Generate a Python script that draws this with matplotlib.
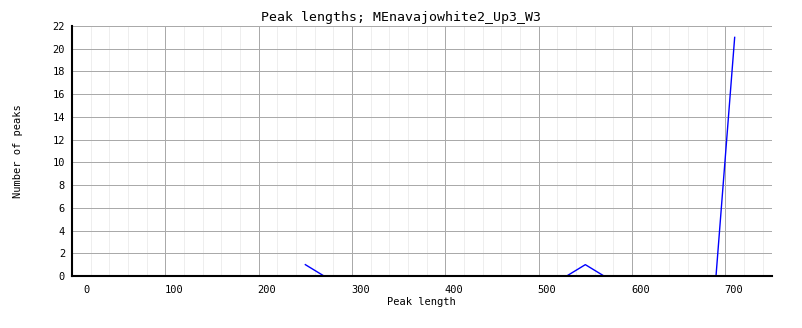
import matplotlib.pyplot as plt
from matplotlib.ticker import MultipleLocator
from matplotlib.transforms import ScaledTranslation

lengths = [250, 270, 290, 310, 330, 350, 370, 390, 410, 430, 450, 470, 490, 510,
           530, 550, 570, 590, 610, 630, 650, 670, 690, 710]
counts = [1, 0, 0, 0, 0, 0, 0, 0, 0, 0, 0, 0, 0, 0,
          0, 1, 0, 0, 0, 0, 0, 0, 0, 21]
xticks = [0, 100, 200, 300, 400, 500, 600, 700]

plt.rcParams['font.family'] = 'DejaVu Sans Mono'
plt.rcParams['font.size'] = 7.5

fig = plt.figure(figsize=(8.02, 3.28), dpi=100)
ax = fig.add_axes([0.0898, 0.1585, 0.8728, 0.7622])

ax.plot(lengths, counts, color='#0000ff', linewidth=1)

ax.set_xlim(0, 750)
ax.set_ylim(0, 22)
ax.set_xticks(xticks)
ax.set_xticklabels([])
ax.xaxis.set_minor_locator(MultipleLocator(20))
ax.yaxis.set_major_locator(MultipleLocator(2))

# x labels sit just right of their grid line (the 0 a bit further)
trans = ax.get_xaxis_transform()
for t in xticks:
    dx = 11 if t == 0 else -1
    off = ScaledTranslation(dx / 100, -9 / 100, fig.dpi_scale_trans)
    ax.text(t, 0, str(t), transform=trans + off, ha='left', va='top')

ax.grid(which='major', color='#aaaaaa', linewidth=0.72, antialiased=False)
ax.grid(which='minor', axis='x', color='#eeeeee', linewidth=0.72, antialiased=False)
ax.set_axisbelow(True)

for s in ['top', 'right']:
    ax.spines[s].set_visible(False)
ax.spines['left'].set_linewidth(1.5)
ax.spines['bottom'].set_linewidth(1.5)
ax.tick_params(which='both', length=0)
ax.tick_params(axis='y', pad=5)

fig.text(0.5, 0.947, 'Peak lengths; MEnavajowhite2_Up3_W3', ha='center', va='center', fontsize=9.5)
fig.text(0.526, 0.079, 'Peak length', ha='center', va='center')
fig.text(0.022, 0.54, 'Number of peaks', rotation=90, ha='center', va='center')

fig.savefig('out.png', dpi=100)
